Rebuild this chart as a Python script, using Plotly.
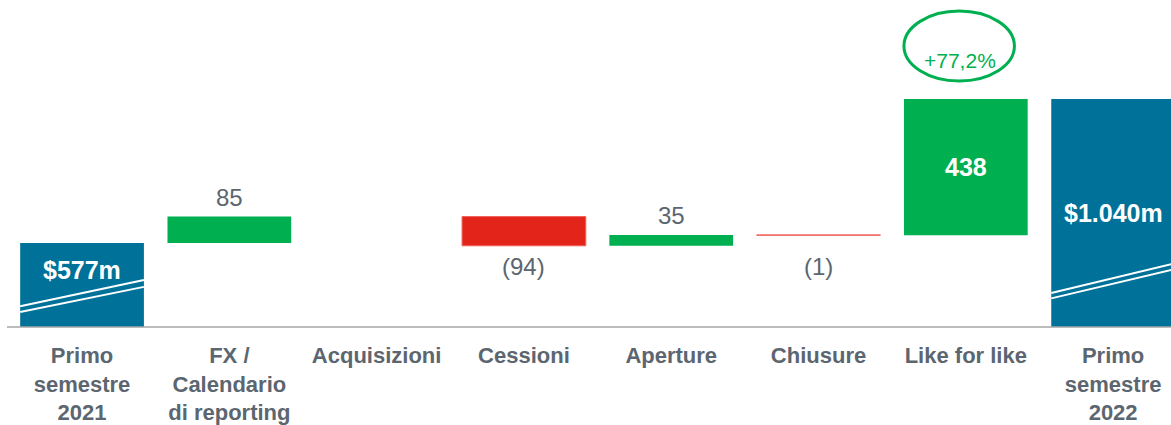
import plotly.graph_objects as go

categories = ["Primo<br>semestre<br>2021", "FX /<br>Calendario<br>di reporting", "Acquisizioni",
              "Cessioni", "Aperture", "Chiusure", "Like for like", "Primo<br>semestre<br>2022"]
values = [577, 85, 0, -94, 35, -1, 438, 1040]
measures = ["absolute", "relative", "relative", "relative", "relative", "relative", "relative", "total"]
total_labels = ["$577m", None, None, None, None, None, None, "$1.040m"]
growth_label = "+77,2%"

BLUE = "#00729A"
GREEN = "#00B050"
RED = "#E3241B"
GRAY = "#5B6670"
FONT = "Liberation Sans, Arial, sans-serif"

fig = go.Figure()
fig.add_trace(go.Waterfall(
    x=list(range(len(categories))),
    y=values,
    measure=measures,
    width=0.84,
    increasing=dict(marker=dict(color=GREEN)),
    decreasing=dict(marker=dict(color=RED, line=dict(color="#F0605A", width=1))),
    totals=dict(marker=dict(color=BLUE)),
    connector=dict(visible=False),
    textposition="none",
    hoverinfo="skip",
))

# cumulative levels
cum = []
run = 0
for v, m in zip(values, measures):
    if m == "absolute":
        run = v
    elif m == "relative":
        run += v
    cum.append(run)

annotations = []
for i, (v, m) in enumerate(zip(values, measures)):
    if m != "relative" or v == 0:
        continue
    if i == 6:
        annotations.append(dict(x=i, y=cum[i] - v / 2, text=f"<b>{v}</b>", showarrow=False,
                                font=dict(family=FONT, size=25, color="white")))
    elif v > 0:
        annotations.append(dict(x=i, y=cum[i], text=str(v), showarrow=False, yanchor="bottom",
                                yshift=4, font=dict(family=FONT, size=24, color=GRAY)))
    else:
        shift = -5 if abs(v) > 10 else -16
        annotations.append(dict(x=i, y=cum[i], text=f"({-v})", showarrow=False, yanchor="top",
                                yshift=shift, font=dict(family=FONT, size=24, color=GRAY)))

annotations.append(dict(x=0, y=490, text=f"<b>{total_labels[0]}</b>", showarrow=False,
                        font=dict(family=FONT, size=25, color="white")))
annotations.append(dict(x=7, y=673, text=f"<b>{total_labels[7]}</b>", showarrow=False,
                        font=dict(family=FONT, size=25, color="white")))
annotations.append(dict(x=5.96, y=0.856, yref="paper", text=growth_label, showarrow=False,
                        font=dict(family=FONT, size=21, color=GREEN)))

shapes = [
    dict(type="line", xref="paper", yref="paper", x0=0.006, x1=1, y0=0, y1=0,
         line=dict(color="#A6A6A6", width=1.5)),
    dict(type="circle", xref="x", yref="paper", x0=5.58, x1=6.33, y0=0.752, y1=0.966,
         line=dict(color=GREEN, width=3)),
    dict(type="line", xref="x", yref="y", x0=-0.42, x1=0.42, y0=374, y1=458,
         line=dict(color="white", width=2)),
    dict(type="line", xref="x", yref="y", x0=-0.42, x1=0.42, y0=355, y1=436,
         line=dict(color="white", width=2)),
    dict(type="line", xref="x", yref="y", x0=6.58, x1=7.42, y0=416, y1=512,
         line=dict(color="white", width=2)),
    dict(type="line", xref="x", yref="y", x0=6.58, x1=7.42, y0=399, y1=493,
         line=dict(color="white", width=2)),
]

fig.update_layout(
    width=1171, height=425,
    margin=dict(l=0, r=0, t=0, b=98),
    paper_bgcolor="white", plot_bgcolor="white",
    showlegend=False,
    annotations=annotations,
    shapes=shapes,
    xaxis=dict(
        range=[-0.557, 7.393],
        tickmode="array",
        tickvals=list(range(len(categories))),
        ticktext=[f"<b>{c}</b>" for c in categories],
        tickfont=dict(family=FONT, size=22, color=GRAY),
        showgrid=False, zeroline=False, showline=False, ticks="",
        ticklabelstandoff=13,
        automargin=False,
    ),
    yaxis=dict(range=[307, 1358], visible=False, showgrid=False, zeroline=False, automargin=False),
)

fig.write_html("out.html",
               config={"displayModeBar": False},
               post_script="document.body.style.margin='0';document.body.style.overflow='hidden';")
